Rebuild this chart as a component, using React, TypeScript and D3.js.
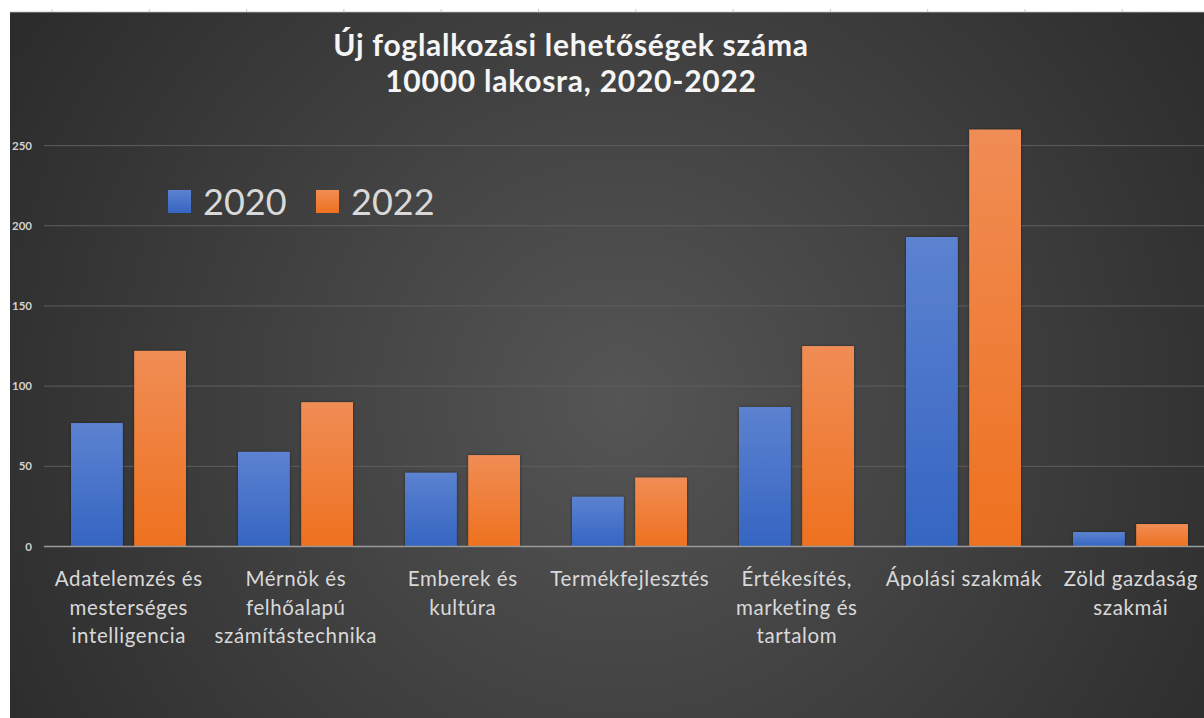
import { useEffect, useRef } from 'react';
import * as d3 from 'd3';

// chart data
const categories = [
  'Adatelemzés és mesterséges intelligencia',
  'Mérnök és felhőalapú számítástechnika',
  'Emberek és kultúra',
  'Termékfejlesztés',
  'Értékesítés, marketing és tartalom',
  'Ápolási szakmák',
  'Zöld gazdaság szakmái',
];
// how each category label wraps under the axis
const categoryLines = [
  ['Adatelemzés és', 'mesterséges', 'intelligencia'],
  ['Mérnök és', 'felhőalapú', 'számítástechnika'],
  ['Emberek és', 'kultúra'],
  ['Termékfejlesztés'],
  ['Értékesítés,', 'marketing és', 'tartalom'],
  ['Ápolási szakmák'],
  ['Zöld gazdaság', 'szakmái'],
];
const seriesNames = ['2020', '2022'];
const values2020 = [77, 59, 46, 31, 87, 193, 9];
const values2022 = [122, 90, 57, 43, 125, 260, 14];
const yTicks = [0, 50, 100, 150, 200, 250];
const titleLines = ['Új foglalkozási lehetőségek száma', '10000 lakosra, 2020-2022'];

const W = 1204;
const H = 718;
const FONT = 'Lato, "Open Sans", sans-serif';

function Chart() {
  const ref = useRef<SVGSVGElement>(null);

  useEffect(() => {
    const svg = d3.select(ref.current);
    svg.selectAll('*').remove();

    const defs = svg.append('defs');
    const bg = defs.append('radialGradient')
      .attr('id', 'bg')
      .attr('gradientUnits', 'userSpaceOnUse')
      .attr('cx', 620).attr('cy', 400).attr('r', 720);
    bg.append('stop').attr('offset', '0%').attr('stop-color', '#555555');
    bg.append('stop').attr('offset', '100%').attr('stop-color', '#2b2b2b');

    const grads = [
      { id: 'g2020', top: '#5c82d0', bottom: '#3565c2' },
      { id: 'g2022', top: '#f08d55', bottom: '#ee711f' },
    ];
    grads.forEach((g) => {
      const lg = defs.append('linearGradient').attr('id', g.id)
        .attr('x1', 0).attr('y1', 0).attr('x2', 0).attr('y2', 1);
      lg.append('stop').attr('offset', '0%').attr('stop-color', g.top);
      lg.append('stop').attr('offset', '100%').attr('stop-color', g.bottom);
    });
    const sh = defs.append('filter').attr('id', 'shadow')
      .attr('x', '-20%').attr('y', '-20%').attr('width', '140%').attr('height', '140%');
    sh.append('feDropShadow').attr('dx', 0).attr('dy', 0)
      .attr('stdDeviation', 1.5).attr('flood-color', '#000').attr('flood-opacity', 0.45);

    // white page with small column marks, then the chart area
    svg.append('rect').attr('width', W).attr('height', H).attr('fill', '#ffffff');
    svg.selectAll('line.colmark')
      .data(d3.range(0, 12))
      .enter().append('line')
      .attr('class', 'colmark')
      .attr('x1', (i) => 52 + i * 97.3).attr('x2', (i) => 52 + i * 97.3)
      .attr('y1', 9).attr('y2', 12)
      .attr('stroke', '#c8c8c8');
    svg.append('rect')
      .attr('x', 10).attr('y', 12).attr('width', W - 10).attr('height', H - 12)
      .attr('fill', 'url(#bg)');
    svg.append('line')
      .attr('x1', 10).attr('x2', W).attr('y1', 12).attr('y2', 12)
      .attr('stroke', '#bdbdbd').attr('stroke-width', 0.8);

    const y = d3.scaleLinear().domain([0, 250]).range([546.5, 145.6]);
    const x0 = d3.scaleBand().domain(categories).range([45, 45 + 167 * categories.length]);
    const x1 = d3.scaleBand().domain(seriesNames).range([26, 141]).paddingInner(0.18);

    const gridX1 = 44;
    // gridlines
    svg.append('g')
      .selectAll('line')
      .data(yTicks.filter((t) => t > 0))
      .enter().append('line')
      .attr('x1', gridX1).attr('x2', W)
      .attr('y1', (d) => y(d)).attr('y2', (d) => y(d))
      .attr('stroke', '#5e5e5e').attr('stroke-width', 1);

    // y tick labels
    svg.append('g')
      .selectAll('text')
      .data(yTicks)
      .enter().append('text')
      .attr('x', 32).attr('y', (d) => y(d) + 4)
      .attr('text-anchor', 'end')
      .attr('font-family', FONT).attr('font-size', 11.5).attr('font-weight', 700)
      .attr('fill', '#d0d0d0')
      .text((d) => d);

    // bars
    const data = categories.map((c, i) => ({ c, vals: [values2020[i], values2022[i]] }));
    const groups = svg.append('g')
      .selectAll('g')
      .data(data)
      .enter().append('g')
      .attr('transform', (d) => `translate(${x0(d.c)},0)`);
    groups.selectAll('rect')
      .data((d) => d.vals.map((v, j) => ({ s: seriesNames[j], v })))
      .enter().append('rect')
      .attr('x', (d) => x1(d.s)!)
      .attr('y', (d) => y(d.v))
      .attr('width', x1.bandwidth())
      .attr('height', (d) => y(0) - y(d.v))
      .attr('fill', (d) => `url(#g${d.s})`)
      .attr('filter', 'url(#shadow)');

    // baseline
    svg.append('line')
      .attr('x1', gridX1).attr('x2', W)
      .attr('y1', y(0)).attr('y2', y(0))
      .attr('stroke', '#9a9a9a').attr('stroke-width', 1.5);

    // category labels
    const labels = svg.append('g')
      .selectAll('text')
      .data(categories)
      .enter().append('text')
      .attr('text-anchor', 'middle')
      .attr('font-family', FONT).attr('font-size', 20.5)
      .attr('letter-spacing', 0.6)
      .attr('fill', '#d9d9d9');
    labels.each(function (c, i) {
      const cx = x0(c)! + x0.bandwidth() / 2 + 0.3;
      d3.select(this).selectAll('tspan')
        .data(categoryLines[i])
        .enter().append('tspan')
        .attr('x', cx)
        .attr('y', (_, k) => 586 + k * 28.5)
        .text((t) => t);
    });

    // title
    svg.append('g')
      .selectAll('text')
      .data(titleLines)
      .enter().append('text')
      .attr('x', 571).attr('y', (_, i) => 56 + i * 36)
      .attr('text-anchor', 'middle')
      .attr('font-family', FONT).attr('font-size', 30).attr('font-weight', 700)
      .attr('letter-spacing', 0.75)
      .attr('fill', '#f5f5f5')
      .text((d) => d);

    // legend
    const legendColors = ['url(#g2020)', 'url(#g2022)'];
    const legend = svg.append('g')
      .selectAll('g')
      .data(seriesNames)
      .enter().append('g')
      .attr('transform', (_, i) => `translate(${168 + i * 148},190)`);
    legend.append('rect')
      .attr('width', 23).attr('height', 23)
      .attr('fill', (_, i) => legendColors[i]);
    legend.append('text')
      .attr('x', 35).attr('y', 25)
      .attr('font-family', FONT).attr('font-size', 36)
      .attr('fill', '#d9d9d9')
      .text((d) => d);
  }, []);

  return <svg ref={ref} width={W} height={H} style={{ display: 'block' }}></svg>;
}

export default function App() {
  return (
    <div style={{ position: 'absolute', left: 0, top: 0 }}>
      <Chart />
    </div>
  );
}
